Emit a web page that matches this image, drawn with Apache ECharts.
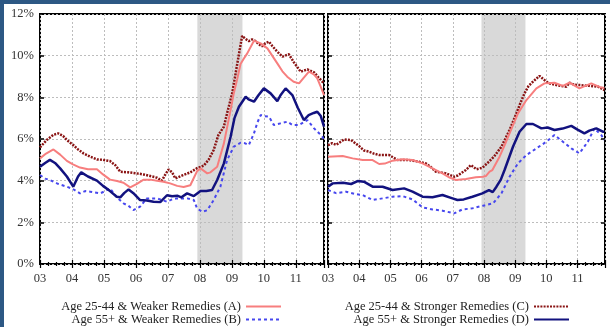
<!DOCTYPE html>
<html>
<head>
<meta charset="utf-8">
<script src="https://cdn.jsdelivr.net/npm/echarts@6/dist/echarts.min.js"></script>
<style>
  html, body { margin: 0; padding: 0; background: #2d5884; width: 610px; height: 327px; overflow: hidden; }
  #chart { position: absolute; left: 4px; top: 4px; width: 606px; height: 323px; background: #ffffff; }
</style>
</head>
<body>
<div id="chart"></div>
<script>
// Year tick labels and percentage tick labels
const yearTicks = ['03', '04', '05', '06', '07', '08', '09', '10', '11'];
const pctTicks = ['0%', '2%', '4%', '6%', '8%', '10%', '12%'];

// Recession band (decimal years)
const recession = [2007.92, 2009.33];

// Series names
const nameA = 'Age 25-44 & Weaker Remedies (A)';
const nameB = 'Age 55+ & Weaker Remedies (B)';
const nameC = 'Age 25-44 & Stronger Remedies (C)';
const nameD = 'Age 55+ & Stronger Remedies (D)';

// Left panel: [decimal year, percent]
const leftA = [
  [2003.00, 5.07], [2003.19, 5.3], [2003.42, 5.5], [2003.63, 5.25], [2003.84, 4.95], [2004.03, 4.78],
  [2004.25, 4.63], [2004.50, 4.55], [2004.78, 4.55], [2004.97, 4.3], [2005.19, 4.05], [2005.41, 3.98],
  [2005.61, 3.9], [2005.82, 3.68], [2006.03, 3.85], [2006.24, 4.05], [2006.45, 4.05], [2006.66, 4.0],
  [2006.86, 3.95], [2007.07, 3.87], [2007.29, 3.75], [2007.49, 3.7], [2007.70, 3.78], [2007.91, 4.45],
  [2008.02, 4.59], [2008.23, 4.35], [2008.33, 4.4], [2008.54, 4.67], [2008.75, 5.79], [2008.96, 7.4],
  [2009.06, 8.2], [2009.17, 8.9], [2009.27, 9.6], [2009.37, 9.85], [2009.48, 10.11], [2009.69, 10.72],
  [2009.90, 10.59], [2010.11, 10.35], [2010.26, 10.0], [2010.42, 9.63], [2010.58, 9.25], [2010.73, 8.99],
  [2010.93, 8.75], [2011.10, 8.67], [2011.25, 8.95], [2011.41, 9.23], [2011.56, 9.1], [2011.67, 8.91],
  [2011.78, 8.5], [2011.88, 8.11]
];
const leftB = [
  [2003.00, 4.27], [2003.16, 4.1], [2003.31, 4.03], [2003.56, 3.85], [2003.84, 3.71], [2004.03, 3.6],
  [2004.25, 3.39], [2004.41, 3.5], [2004.57, 3.47], [2004.88, 3.39], [2005.04, 3.5], [2005.19, 3.63],
  [2005.40, 3.2], [2005.61, 2.91], [2005.76, 2.8], [2005.92, 2.59], [2006.13, 2.75], [2006.34, 3.15],
  [2006.66, 3.15], [2006.97, 2.99], [2007.13, 3.1], [2007.29, 3.15], [2007.60, 3.15], [2007.81, 3.07],
  [2007.91, 2.67], [2008.07, 2.51], [2008.23, 2.58], [2008.43, 3.07], [2008.64, 3.71], [2008.85, 4.99],
  [2009.06, 5.63], [2009.27, 5.82], [2009.40, 5.8], [2009.53, 5.71], [2009.69, 6.27], [2009.80, 6.8],
  [2009.90, 7.15], [2010.02, 7.1], [2010.16, 7.07], [2010.31, 6.67], [2010.52, 6.75], [2010.73, 6.83],
  [2010.90, 6.67], [2011.10, 6.67], [2011.36, 6.91], [2011.57, 6.51], [2011.71, 6.3], [2011.83, 6.11],
  [2011.88, 5.95]
];
const leftC = [
  [2003.00, 5.6], [2003.05, 5.66], [2003.21, 5.95], [2003.42, 6.2], [2003.57, 6.27], [2003.72, 6.15],
  [2003.84, 5.95], [2004.04, 5.71], [2004.19, 5.5], [2004.36, 5.31], [2004.57, 5.15], [2004.78, 5.02],
  [2004.97, 5.0], [2005.19, 4.94], [2005.35, 4.75], [2005.51, 4.43], [2005.76, 4.4], [2006.03, 4.35],
  [2006.23, 4.3], [2006.45, 4.22], [2006.66, 4.14], [2006.81, 4.0], [2006.92, 4.3], [2007.02, 4.54],
  [2007.13, 4.4], [2007.23, 4.11], [2007.45, 4.25], [2007.70, 4.4], [2007.91, 4.6], [2008.12, 4.72],
  [2008.27, 5.0], [2008.43, 5.47], [2008.58, 6.2], [2008.75, 6.59], [2008.86, 7.3], [2009.01, 8.19],
  [2009.17, 9.63], [2009.32, 10.95], [2009.43, 10.8], [2009.53, 10.7], [2009.63, 10.78], [2009.74, 10.7],
  [2009.84, 10.55], [2009.95, 10.45], [2010.05, 10.6], [2010.16, 10.67], [2010.27, 10.45], [2010.42, 10.19],
  [2010.58, 9.95], [2010.78, 10.07], [2010.93, 9.7], [2011.15, 9.23], [2011.36, 9.34], [2011.57, 9.2],
  [2011.71, 8.95], [2011.88, 8.67]
];
const leftD = [
  [2003.00, 4.67], [2003.16, 4.85], [2003.31, 5.0], [2003.47, 4.85], [2003.63, 4.59], [2003.84, 4.2],
  [2004.04, 3.71], [2004.19, 4.2], [2004.29, 4.4], [2004.50, 4.2], [2004.78, 4.0], [2004.97, 3.75],
  [2005.19, 3.5], [2005.40, 3.23], [2005.51, 3.2], [2005.63, 3.4], [2005.77, 3.58], [2005.92, 3.4],
  [2006.13, 3.07], [2006.34, 3.05], [2006.55, 2.99], [2006.76, 2.97], [2006.97, 3.3], [2007.13, 3.25],
  [2007.29, 3.28], [2007.42, 3.2], [2007.60, 3.39], [2007.81, 3.26], [2008.02, 3.5], [2008.20, 3.5],
  [2008.38, 3.55], [2008.54, 4.03], [2008.75, 4.83], [2008.96, 6.11], [2009.08, 7.0], [2009.22, 7.55],
  [2009.43, 8.03], [2009.52, 7.9], [2009.69, 7.79], [2009.83, 8.1], [2010.00, 8.43], [2010.21, 8.19],
  [2010.42, 7.82], [2010.52, 8.1], [2010.68, 8.43], [2010.89, 8.11], [2011.06, 7.5], [2011.25, 6.91],
  [2011.40, 7.15], [2011.56, 7.25], [2011.67, 7.31], [2011.78, 7.1], [2011.88, 6.59]
];

// Right panel: [decimal year, percent]
const rightA = [
  [2003.00, 5.15], [2003.47, 5.18], [2003.79, 5.07], [2004.11, 4.99], [2004.43, 4.99], [2004.64, 4.8],
  [2004.82, 4.82], [2005.07, 4.96], [2005.39, 5.03], [2005.71, 4.99], [2006.03, 4.83], [2006.35, 4.59],
  [2006.67, 4.35], [2006.90, 4.15], [2007.10, 4.03], [2007.42, 4.08], [2007.74, 4.16], [2007.97, 4.19],
  [2008.06, 4.22], [2008.18, 4.43], [2008.27, 4.51], [2008.50, 5.15], [2008.66, 5.7], [2008.82, 6.27],
  [2009.09, 7.23], [2009.36, 7.87], [2009.68, 8.43], [2009.94, 8.67], [2010.26, 8.7], [2010.53, 8.55],
  [2010.74, 8.71], [2011.06, 8.43], [2011.44, 8.67], [2011.70, 8.5], [2011.86, 8.45]
];
const rightB = [
  [2003.00, 3.55], [2003.26, 3.4], [2003.58, 3.47], [2003.90, 3.35], [2004.11, 3.31], [2004.43, 3.07],
  [2004.75, 3.15], [2005.07, 3.23], [2005.39, 3.26], [2005.71, 3.1], [2005.88, 2.9], [2006.03, 2.72],
  [2006.35, 2.62], [2006.67, 2.56], [2007.04, 2.43], [2007.31, 2.62], [2007.63, 2.67], [2007.97, 2.8],
  [2008.29, 2.91], [2008.56, 3.39], [2008.82, 4.19], [2009.09, 4.83], [2009.36, 5.23], [2009.68, 5.55],
  [2010.00, 5.87], [2010.26, 6.19], [2010.53, 5.87], [2010.80, 5.55], [2011.06, 5.31], [2011.33, 5.87],
  [2011.54, 6.51], [2011.76, 6.19], [2011.86, 5.95]
];
const rightC = [
  [2003.00, 5.7], [2003.13, 5.8], [2003.26, 5.72], [2003.52, 5.98], [2003.74, 5.95], [2004.00, 5.66],
  [2004.15, 5.45], [2004.32, 5.39], [2004.47, 5.3], [2004.64, 5.23], [2004.96, 5.23], [2005.23, 4.99],
  [2005.60, 4.99], [2005.92, 4.91], [2006.14, 4.83], [2006.30, 4.65], [2006.46, 4.43], [2006.78, 4.35],
  [2007.04, 4.19], [2007.16, 4.25], [2007.42, 4.51], [2007.58, 4.75], [2007.76, 4.55], [2007.95, 4.62],
  [2008.16, 4.91], [2008.32, 5.15], [2008.56, 5.63], [2008.82, 6.43], [2009.04, 7.23], [2009.16, 7.7],
  [2009.30, 8.19], [2009.43, 8.55], [2009.57, 8.75], [2009.78, 9.03], [2010.00, 8.75], [2010.14, 8.65],
  [2010.32, 8.59], [2010.46, 8.55], [2010.64, 8.51], [2010.74, 8.7], [2010.90, 8.6], [2011.06, 8.59],
  [2011.38, 8.55], [2011.66, 8.51], [2011.86, 8.35]
];
const rightD = [
  [2003.00, 3.71], [2003.15, 3.87], [2003.48, 3.9], [2003.74, 3.84], [2003.95, 3.98], [2004.15, 3.95],
  [2004.43, 3.71], [2004.75, 3.71], [2005.07, 3.55], [2005.44, 3.63], [2005.71, 3.47], [2006.03, 3.23],
  [2006.35, 3.2], [2006.67, 3.31], [2006.99, 3.15], [2007.15, 3.07], [2007.35, 3.1], [2007.63, 3.23],
  [2007.95, 3.39], [2008.16, 3.55], [2008.28, 3.45], [2008.40, 3.71], [2008.54, 4.05], [2008.66, 4.51],
  [2008.93, 5.63], [2009.14, 6.35], [2009.36, 6.72], [2009.57, 6.72], [2009.84, 6.51], [2010.04, 6.55],
  [2010.26, 6.43], [2010.52, 6.5], [2010.80, 6.63], [2011.00, 6.45], [2011.22, 6.27], [2011.38, 6.4],
  [2011.60, 6.51], [2011.81, 6.35], [2011.86, 6.35]
];

const X_MIN = 2003, X_MAX = 2011.88;
const serif = '"Liberation Serif", "DejaVu Serif", serif';

const styles = {
  [nameA]: { color: '#f77e7e', width: 2, type: 'solid' },
  [nameB]: { color: '#4747ee', width: 2, type: [3, 3] },
  [nameC]: { color: '#8a1414', width: 2.5, type: [2, 1.2] },
  [nameD]: { color: '#12127f', width: 2.5, type: 'solid' }
};

function isYear(v) { return Math.abs(v - Math.round(v)) < 1e-6; }

function xAxes(gridIndex, top) {
  return {
    type: 'value', gridIndex, min: X_MIN, max: X_MAX, interval: 1,
    position: top ? 'top' : 'bottom',
    axisLine: { show: false },
    axisTick: { show: true, inside: true, length: 4, lineStyle: { color: '#000', width: 1.2 } },
    minorTick: { show: true, splitNumber: 4, length: 2, lineStyle: { color: '#000', width: 1.2 } },
    axisLabel: top ? { show: false } : {
      show: true, margin: 8, color: '#333', fontFamily: serif, fontSize: 12.5,
      formatter: v => isYear(v) ? yearTicks[Math.round(v) - 2003] : ''
    },
    splitLine: top ? { show: false } : { show: true, lineStyle: { color: '#bdbdbd', width: 1, type: [2, 2] } }
  };
}

function yAxes(gridIndex, right, labels) {
  return {
    type: 'value', gridIndex, min: 0, max: 12, interval: 2,
    position: right ? 'right' : 'left',
    axisLine: { show: false },
    axisTick: { show: true, inside: true, length: 4, lineStyle: { color: '#000', width: 1.5 } },
    axisLabel: labels ? {
      show: true, margin: 6, color: '#333', fontFamily: serif, fontSize: 12.5,
      formatter: v => pctTicks[Math.round(v / 2)]
    } : { show: false },
    splitLine: right ? { show: false } : { show: true, lineStyle: { color: '#bdbdbd', width: 1, type: [2, 2] } }
  };
}

function line(name, data, axisIdx) {
  const s = styles[name];
  return {
    name, type: 'line', data, xAxisIndex: axisIdx, yAxisIndex: axisIdx,
    symbol: 'none', smooth: false, animation: false,
    lineStyle: { color: s.color, width: s.width, type: s.type },
    itemStyle: { color: s.color }, z: 3
  };
}

function shade(axisIdx) {
  return {
    type: 'line', data: [], xAxisIndex: axisIdx, yAxisIndex: axisIdx, silent: true, animation: false,
    markArea: {
      silent: true, z: -1,
      itemStyle: { color: '#d9d9d9' },
      data: [[{ xAxis: recession[0] }, { xAxis: recession[1] }]]
    }
  };
}

// Legend: text on the left, plain line sample on the right (no point marker)
const legendBase = {
  orient: 'vertical', align: 'right', padding: 0, itemGap: 0,
  itemWidth: 35, itemHeight: 10, top: 296,
  itemStyle: { color: 'transparent', borderWidth: 0, opacity: 0 },
  textStyle: { fontFamily: serif, fontSize: 12.5, color: '#222', lineHeight: 13 },
  inactiveColor: '#ccc'
};

const chart = echarts.init(document.getElementById('chart'), null, { renderer: 'canvas' });
chart.setOption({
  animation: false,
  grid: [
    { left: 36, top: 10, width: 284, height: 250, show: true, borderColor: '#000', borderWidth: 2, backgroundColor: 'transparent' },
    { left: 324, top: 10, width: 277, height: 250, show: true, borderColor: '#000', borderWidth: 2, backgroundColor: 'transparent' }
  ],
  xAxis: [xAxes(0, false), xAxes(1, false), xAxes(0, true), xAxes(1, true)],
  yAxis: [yAxes(0, false, true), yAxes(1, false, false), yAxes(0, true, false), yAxes(1, true, false)],
  legend: [
    Object.assign({}, legendBase, { right: 328, data: [nameA, nameB] }),
    Object.assign({}, legendBase, { right: 40, data: [nameC, nameD] })
  ],
  series: [
    shade(0), shade(1),
    line(nameC, leftC, 0), line(nameA, leftA, 0), line(nameB, leftB, 0), line(nameD, leftD, 0),
    line(nameC, rightC, 1), line(nameA, rightA, 1), line(nameB, rightB, 1), line(nameD, rightD, 1)
  ]
});
</script>
</body>
</html>
